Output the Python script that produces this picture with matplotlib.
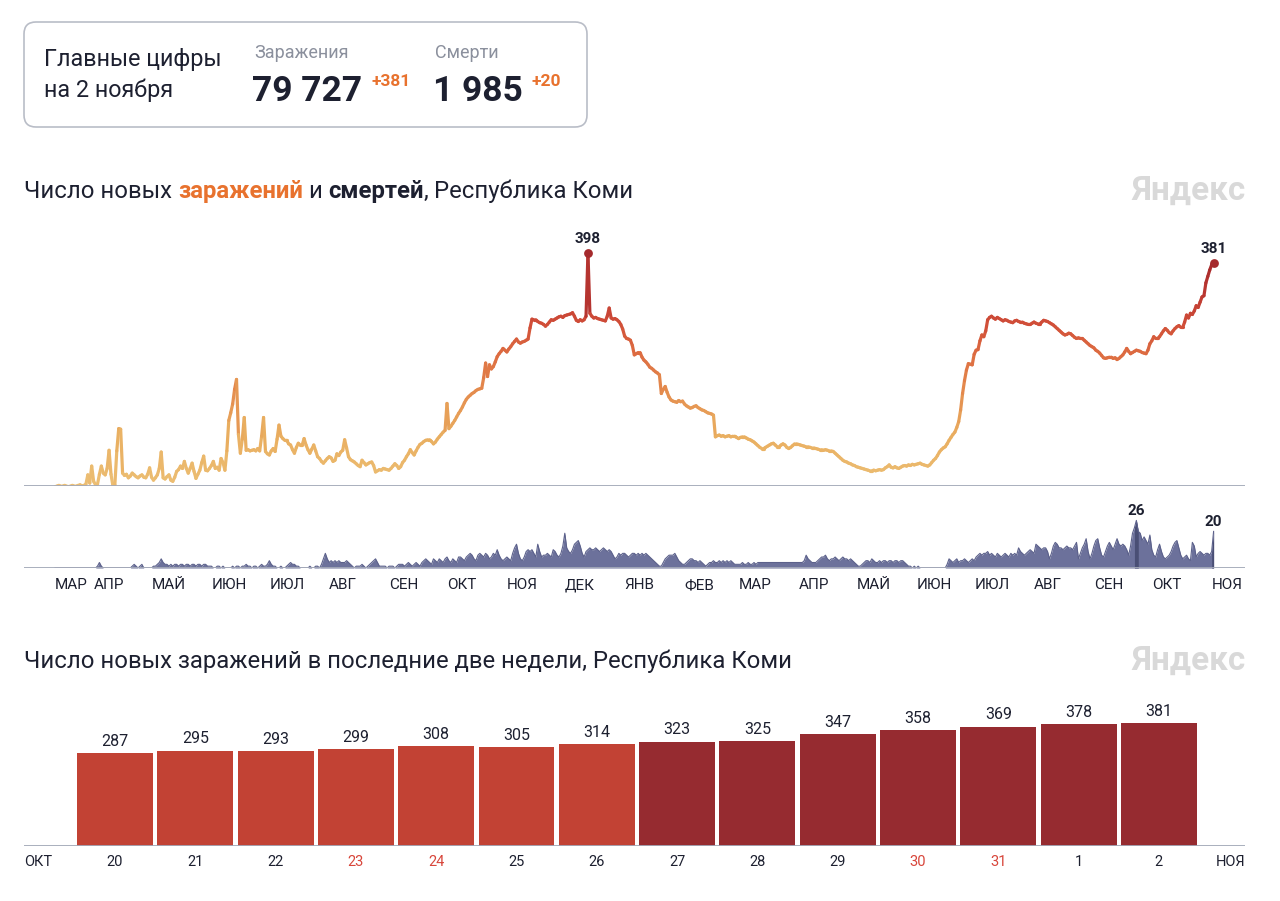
import numpy as np
import matplotlib
matplotlib.use('Agg')
import matplotlib.pyplot as plt
from matplotlib.collections import LineCollection
from matplotlib.colors import LinearSegmentedColormap, Normalize
from matplotlib.patches import FancyBboxPatch
from matplotlib.transforms import blended_transform_factory

plt.rcParams['font.family'] = ['Roboto', 'DejaVu Sans']

# ---------------- DATA ----------------
START = np.datetime64('2020-03-12')
REPORT_DATE = 'на 2 ноября'
total_cases, new_cases = 79727, 381
total_deaths, new_deaths = 1985, 20

cases = [
    0,0,1,0,0,1,0,0,0,1,0,0,1,2,0,1,
    3,19,5,34,8,2,3,20,34,22,19,30,61,20,0,2,60,98,97,22,
    18,20,14,17,22,19,16,14,17,19,15,14,20,31,15,10,14,19,30,58,14,12,16,19,10,
    8,15,25,28,34,30,42,30,22,30,39,25,13,20,27,40,51,27,26,30,35,42,30,32,27,47,40,27,60,112,
    125,140,165,182,88,56,80,117,61,62,60,61,62,60,64,60,85,117,59,55,53,60,64,59,80,104,85,81,78,78,
    72,70,62,56,66,73,70,70,81,70,62,56,63,70,60,50,47,42,39,43,47,50,48,42,44,55,52,58,61,79,
    65,50,45,43,41,38,35,33,44,40,36,38,40,41,35,24,26,28,27,30,29,28,27,30,34,38,35,30,33,40,
    44,50,55,62,57,53,60,66,71,73,76,78,79,79,76,72,75,80,84,88,92,95,141,98,102,107,112,118,124,129,
    135,142,148,152,155,158,160,163,165,166,167,185,210,187,207,200,204,212,221,226,230,235,232,229,234,238,243,247,251,246,
    244,246,247,249,251,270,285,284,284,281,279,278,276,273,276,280,284,283,285,287,289,290,288,291,292,293,294,296,290,283,
    281,284,282,284,290,398,295,290,287,288,286,285,284,283,282,290,304,287,285,286,284,281,276,268,256,252,251,249,240,224,
    226,228,228,220,215,212,208,203,201,198,195,193,190,158,165,170,160,152,147,145,144,143,146,144,145,140,137,135,133,134,
    136,137,134,132,130,129,127,125,124,123,121,84,86,87,85,86,84,85,86,84,85,85,83,81,83,84,84,82,80,79,
    77,75,72,69,66,64,64,66,68,70,72,73,70,67,67,70,72,70,66,64,66,69,72,72,71,70,69,68,67,67,
    66,65,65,64,63,62,62,61,62,61,60,60,59,56,53,50,47,44,42,41,39,38,36,35,33,32,31,30,29,28,
    27,26,26,27,26,27,28,27,28,31,33,36,32,31,33,31,30,32,34,35,34,36,35,37,36,37,38,39,37,36,
    35,34,36,40,44,47,52,58,62,65,67,72,78,83,88,92,100,110,130,158,180,198,209,208,207,225,232,233,248,258,
    255,265,284,288,290,287,285,288,286,284,282,284,283,281,280,279,282,283,281,280,280,278,277,276,276,278,280,278,277,277,
    280,283,282,281,279,277,275,272,269,266,263,260,258,259,261,260,257,254,252,253,252,252,249,246,243,240,238,236,232,230,
    227,223,219,218,219,220,220,218,219,216,218,221,224,229,235,230,226,228,230,232,231,230,228,227,226,232,243,248,255,252,
    252,255,260,265,269,266,262,260,265,269,272,274,271,271,280,292,
    287,295,293,299,308,305,314,323,325,347,358,369,378,381,
]

deaths = [
    0,0,0,0,0,0,0,0,0,0,0,0,0,0,0,0,0,0,0,0,0,0,1,3,1,0,0,0,0,0,
    0,0,0,0,0,0,0,0,0,0,1,2,1,0,1,2,0,0,0,0,0,1,1,2,3,5,3,2,2,1,
    2,1,2,2,1,2,2,1,2,2,1,2,2,1,2,2,1,2,2,1,1,1,0,0,1,1,0,1,0,0,
    0,0,1,0,1,1,0,1,1,2,1,1,0,1,1,0,1,2,1,1,2,4,2,1,1,0,0,1,0,0,
    1,2,3,2,2,1,1,0,0,0,0,0,1,0,0,1,1,0,2,5,8,5,3,4,3,4,3,4,3,3,
    3,4,3,2,1,0,1,1,1,2,1,0,1,2,3,4,5,3,1,1,1,1,0,1,1,1,0,1,2,2,
    2,1,2,3,2,1,2,3,2,1,3,4,5,4,3,2,5,4,3,5,4,3,5,6,4,3,5,4,3,6,
    6,5,4,6,7,8,7,5,4,7,8,7,6,8,7,5,6,8,7,10,7,5,4,5,6,5,4,8,11,13,
    8,5,4,6,9,10,9,10,8,6,13,9,6,7,7,8,7,6,10,9,7,6,8,12,19,11,9,8,10,13,
    14,15,12,8,6,9,10,11,10,10,11,10,9,10,11,10,9,10,9,7,5,6,8,7,8,8,7,6,7,8,
    8,7,8,7,8,7,8,7,6,5,4,3,2,1,1,3,5,6,7,7,7,8,6,4,3,2,2,3,4,5,
    5,4,4,3,4,3,2,1,2,3,3,4,3,3,4,3,4,3,4,3,4,3,2,2,2,2,3,2,2,3,
    2,2,3,2,3,3,3,3,3,3,3,3,3,3,3,3,3,3,3,3,3,3,3,3,3,3,3,3,4,7,
    5,4,3,3,3,4,5,6,6,7,5,4,5,5,6,5,4,5,6,5,5,4,5,4,3,2,1,1,2,3,
    4,4,3,5,4,3,3,4,3,4,4,3,4,4,3,4,4,3,4,4,3,2,1,1,0,1,0,1,0,0,
    0,0,0,0,0,0,0,0,0,0,0,0,2,5,4,3,4,5,3,4,4,5,4,3,4,5,4,6,7,8,
    7,8,8,9,7,8,7,6,8,7,6,7,8,7,6,8,7,8,7,11,9,8,7,8,9,10,9,8,13,12,
    11,10,11,11,9,5,8,12,14,13,11,11,10,11,12,11,11,10,12,14,5,8,11,13,16,9,5,8,12,15,
    16,11,7,6,9,12,14,12,10,13,16,13,12,13,12,10,7,12,19,22,26,20,19,15,17,15,13,18,10,7,
    6,10,13,9,6,5,6,7,9,12,14,15,11,7,5,6,7,5,4,14,12,6,8,9,8,7,8,8,7,9,20,
]

month_labels = ['МАР', 'АПР', 'МАЙ', 'ИЮН', 'ИЮЛ', 'АВГ', 'СЕН', 'ОКТ', 'НОЯ', 'ДЕК',
                'ЯНВ', 'ФЕВ', 'МАР', 'АПР', 'МАЙ', 'ИЮН', 'ИЮЛ', 'АВГ', 'СЕН', 'ОКТ', 'НОЯ']
month_dates = ['2020-03-12', '2020-04-01', '2020-05-01', '2020-06-01', '2020-07-01', '2020-08-01',
               '2020-09-01', '2020-10-01', '2020-11-01', '2020-12-01', '2021-01-01', '2021-02-01',
               '2021-03-01', '2021-04-01', '2021-05-01', '2021-06-01', '2021-07-01', '2021-08-01',
               '2021-09-01', '2021-10-01', '2021-11-01']

bar_days = ['20', '21', '22', '23', '24', '25', '26', '27', '28', '29', '30', '31', '1', '2']
bar_values = [287, 295, 293, 299, 308, 305, 314, 323, 325, 347, 358, 369, 378, 381]
bar_weekend = [False, False, False, True, True, False, False, False, False, False, True, True, False, False]
bar_week = [1, 1, 1, 1, 1, 1, 1, 2, 2, 2, 2, 2, 2, 2]
bar_first_month, bar_last_month = 'ОКТ', 'НОЯ'

# ---------------- STYLE ----------------
W, H = 1280, 901
DARK = '#1d2030'
GREY_TXT = '#8b909d'
ORANGE = '#e8722e'
AXIS = '#a3a9b8'
LOGO = '#d9d9d9'

fig = plt.figure(figsize=(W / 100, H / 100), dpi=100)
fig.patch.set_facecolor('white')
bg = fig.add_axes([0, 0, 1, 1])
bg.set_xlim(0, W)
bg.set_ylim(H, 0)
bg.axis('off')


def px_axes(l, t, r, b):
    a = fig.add_axes([l / W, 1 - b / H, (r - l) / W, (b - t) / H])
    a.axis('off')
    a.patch.set_alpha(0)
    return a


def fmt(n):
    return f'{n:,}'.replace(',', ' ')


renderer = fig.canvas.get_renderer()


def width_of(t):
    return t.get_window_extent(renderer).width


# ---------------- HEADER BOX ----------------
box = FancyBboxPatch((24, 22), 563, 105, boxstyle='round,pad=0,rounding_size=12',
                     fc='white', ec='#b9bdc7', lw=1.2)
bg.add_patch(box)
bg.text(44, 66, 'Главные цифры', fontsize=16.8, color=DARK, va='baseline')
bg.text(44, 97, REPORT_DATE, fontsize=16.8, color=DARK, va='baseline')

bg.text(254, 58, 'Заражения', fontsize=13, color=GREY_TXT, va='baseline')
t = bg.text(252, 101, fmt(total_cases), fontsize=25.5, weight='bold', color=DARK, va='baseline')
bg.text(252 + width_of(t) + 9, 86, f'+{new_cases}', fontsize=12.5, weight='bold', color=ORANGE, va='baseline')

bg.text(435, 58, 'Смерти', fontsize=13, color=GREY_TXT, va='baseline')
t = bg.text(433, 101, fmt(total_deaths), fontsize=25.5, weight='bold', color=DARK, va='baseline')
bg.text(433 + width_of(t) + 9, 86, f'+{new_deaths}', fontsize=12.5, weight='bold', color=ORANGE, va='baseline')


# ---------------- TITLES ----------------
def rich(x, y, pieces, size):
    sp = bg.text(0, -100, 'нн', fontsize=size)
    sp2 = bg.text(0, -100, 'н н', fontsize=size)
    space = width_of(sp2) - width_of(sp)
    sp.remove(); sp2.remove()
    cur = x
    for s, kw in pieces:
        if s == ' ':
            cur += space
            continue
        tt = bg.text(cur, y, s, fontsize=size, va='baseline', ha='left', **kw)
        cur += width_of(tt)


TSIZE = 17.2
rich(24, 198, [('Число новых', dict(color=DARK)), (' ', {}),
               ('заражений', dict(color=ORANGE, weight='bold')), (' ', {}),
               ('и', dict(color=DARK)), (' ', {}),
               ('смертей', dict(color=DARK, weight='bold')),
               (',', dict(color=DARK)), (' ', {}),
               ('Республика Коми', dict(color=DARK))], TSIZE)
bg.text(24, 668, 'Число новых заражений в последние две недели, Республика Коми',
        fontsize=TSIZE, color=DARK, va='baseline')
for yy in (200, 670):
    bg.text(1246, yy, 'Яндекс', fontsize=24, weight='bold', color=LOGO, va='baseline', ha='right')

# ---------------- CASES LINE ----------------
PXD = 1.931
x = np.arange(len(cases))
xl = (-(55 - 24) / PXD, (1245 - 55) / PXD)

ax1 = px_axes(24, 225, 1245, 486)
ax1.set_xlim(*xl)
ax1.set_ylim(0, (486 - 225) / 0.5854)
cv = np.array(cases, dtype=float)
pts = np.column_stack([x, cv]).reshape(-1, 1, 2)
segs = np.concatenate([pts[:-1], pts[1:]], axis=1)
cmap = LinearSegmentedColormap.from_list('inf', [
    (0.0, '#ecbf74'), (0.22, '#e9ae60'), (0.42, '#e4894c'), (0.58, '#dc6940'),
    (0.70, '#d04d38'), (0.82, '#bd3a32'), (1.0, '#9f2329')])
lc = LineCollection(segs, cmap=cmap, norm=Normalize(0, 400), lw=2.3,
                    capstyle='round', joinstyle='round')
lc.set_array((cv[:-1] + cv[1:]) / 2)
ax1.add_collection(lc)
ax1.axhline(0, color=AXIS, lw=1.3, xmin=0, xmax=1)
for i in (int(np.argmax(cv)), len(cv) - 1):
    ax1.scatter([x[i]], [cv[i]], s=40, color='#a52a2d', zorder=5, lw=0)
    ax1.annotate(f'{cases[i]}', (x[i], cv[i]), xytext=(0, 5), textcoords='offset points',
                 ha='center', va='bottom', fontsize=11, weight='bold', color=DARK)

# ---------------- DEATHS AREA ----------------
ax2 = px_axes(24, 495, 1245, 568)
ax2.set_xlim(*xl)
ax2.set_ylim(0, (568 - 495) / 1.83)
dv = np.array(deaths, dtype=float)
xd = np.arange(len(dv))
ax2.fill_between(xd, dv, 0, color='#6c719b', lw=0)
ax2.plot(xd, dv, color='#5c618b', lw=0.8)
ax2.axhline(0, color=AXIS, lw=1.3)
for i in (int(np.argmax(dv)), len(dv) - 1):
    lo, hi = max(i - 1, 0), min(i + 2, len(dv))
    ax2.fill_between(xd[lo:hi], dv[lo:hi], 0, color='#4a4f75', lw=0)
    ax2.annotate(f'{deaths[i]}', (xd[i], dv[i]), xytext=(0, 2), textcoords='offset points',
                 ha='center', va='bottom', fontsize=11, weight='bold', color=DARK)

mtr = blended_transform_factory(ax2.transData, bg.transData)
for lab, ds in zip(month_labels, month_dates):
    d = (np.datetime64(ds) - START).astype(int)
    ax2.text(d, 589, lab, transform=mtr, fontsize=11, color=DARK, ha='left', va='baseline')

# ---------------- BAR CHART ----------------
ax3 = px_axes(24, 690, 1245, 846)
bstep = 80.3
ax3.set_xlim((24 - 115) / bstep, (1245 - 115) / bstep)
ax3.set_ylim(0, (846 - 690) / 0.3235)
bx = np.arange(len(bar_values))
colors = ['#c24234' if w == 1 else '#962b30' for w in bar_week]
ax3.bar(bx, bar_values, width=0.945, color=colors, lw=0)
ax3.axhline(0, color=AXIS, lw=1.3)
btr = blended_transform_factory(ax3.transData, bg.transData)
for i, v in enumerate(bar_values):
    ax3.annotate(f'{v}', (bx[i], v), xytext=(0, 3), textcoords='offset points',
                 ha='center', va='bottom', fontsize=11.5, color=DARK)
    ax3.text(bx[i], 866, bar_days[i], transform=btr, ha='center', va='baseline', fontsize=10.5,
             color='#d8463b' if bar_weekend[i] else DARK)
bg.text(24, 866, bar_first_month, fontsize=10.5, color=DARK, ha='left', va='baseline')
bg.text(1245, 866, bar_last_month, fontsize=10.5, color=DARK, ha='right', va='baseline')

fig.savefig('out.png', dpi=100, facecolor='white')
